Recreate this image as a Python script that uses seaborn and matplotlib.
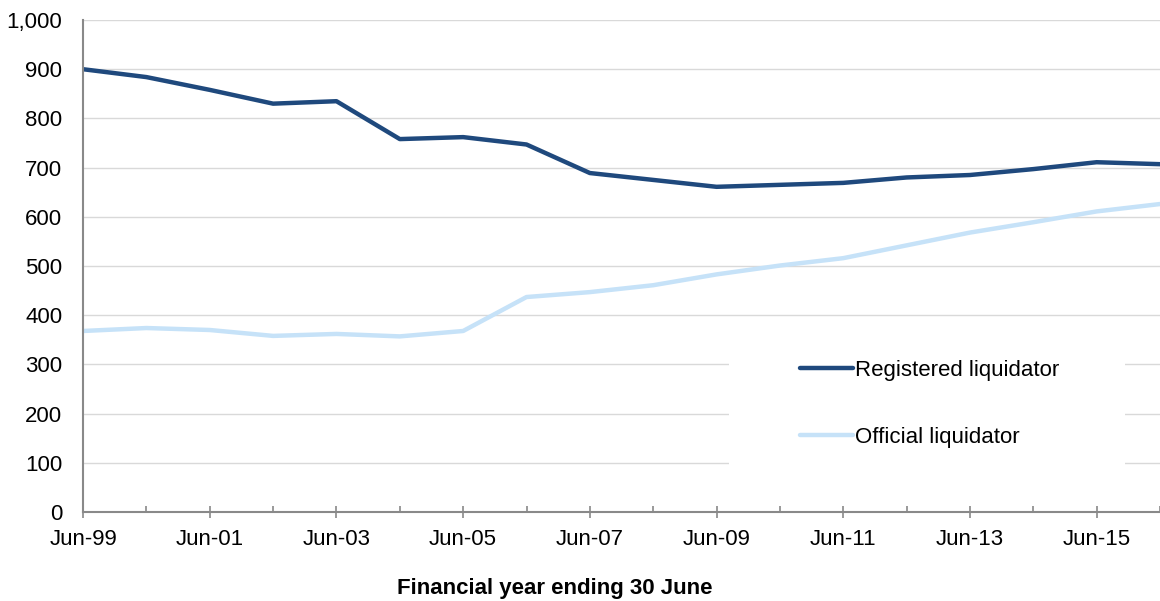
import matplotlib
matplotlib.use("Agg")
import matplotlib.pyplot as plt
import seaborn as sns
import pandas as pd
from matplotlib.patches import Rectangle
from matplotlib.lines import Line2D
from matplotlib.ticker import FuncFormatter, MultipleLocator

years = list(range(1999, 2017))
registered = [900, 884, 858, 830, 835, 758, 762, 747, 689, 675, 661, 665, 669, 680, 685, 697, 711, 707]
official = [368, 374, 370, 358, 362, 357, 368, 437, 447, 461, 483, 501, 516, 542, 568, 589, 611, 626]
series_names = ["Registered liquidator", "Official liquidator"]
tick_labels = ["Jun-%02d" % (y % 100) for y in years[::2]]

df = pd.DataFrame({
    "idx": list(range(len(years))) * 2,
    "value": registered + official,
    "series": [series_names[0]] * len(years) + [series_names[1]] * len(years),
})

sns.set_theme(style="white")
plt.rcParams["font.family"] = ["Liberation Sans", "DejaVu Sans"]
plt.rcParams["text.color"] = "black"

FS = 16

fig = plt.figure(figsize=(11.6, 6.01), dpi=100)
ax = fig.add_axes([0.0716, 0.148, 0.9284, 0.8187])

palette = {series_names[0]: "#1F497D", series_names[1]: "#C6E2F8"}
sns.lineplot(data=df, x="idx", y="value", hue="series", palette=palette,
             linewidth=3.2, ax=ax, legend=False, zorder=3)

ax.set_xlim(0, len(years) - 1)
ax.set_ylim(0, 1000)
ax.yaxis.set_major_locator(MultipleLocator(100))
ax.yaxis.set_major_formatter(FuncFormatter(lambda v, p: f"{int(v):,}"))
ax.set_xticks(list(range(0, len(years), 2)))
ax.set_xticklabels(tick_labels)
ax.xaxis.set_minor_locator(MultipleLocator(1))

ax.grid(axis="y", color="#D9D9D9", linewidth=1.0, zorder=0)
ax.grid(axis="x", visible=False)
for s in ["top", "right"]:
    ax.spines[s].set_visible(False)
for s in ["left", "bottom"]:
    ax.spines[s].set_color("#898989")
    ax.spines[s].set_linewidth(1.5)
    ax.spines[s].set_zorder(4)

ax.tick_params(axis="y", length=0, pad=15, labelsize=FS, labelcolor="black")
ax.tick_params(axis="x", which="major", direction="inout", length=9, width=1.2,
               color="#898989", pad=8, labelsize=FS, labelcolor="black", bottom=True)
ax.tick_params(axis="x", which="minor", direction="in", length=4, width=1.2,
               color="#898989", bottom=True)

ax.set_xlabel("Financial year ending 30 June", fontsize=FS, fontweight="bold", color="black")
ax.xaxis.set_label_coords(0.438, -0.155)
ax.xaxis.label.set_verticalalignment("center")
ax.set_ylabel("")

# legend background box
ax.add_patch(Rectangle((0.600, 0.045), 0.3675, 0.315, transform=ax.transAxes,
                       facecolor="white", edgecolor="none", zorder=2))

handles = [Line2D([0], [0], color=palette[n], lw=3.2) for n in series_names]
leg = ax.legend(handles, series_names, loc="upper left", bbox_to_anchor=(0.666, 0.310),
                frameon=False, fontsize=FS, handlelength=2.35, handletextpad=0.12,
                labelspacing=2.09, borderpad=0, borderaxespad=0)
for t in leg.get_texts():
    t.set_color("black")
leg.set_zorder(5)

fig.savefig("out.png", dpi=100)
